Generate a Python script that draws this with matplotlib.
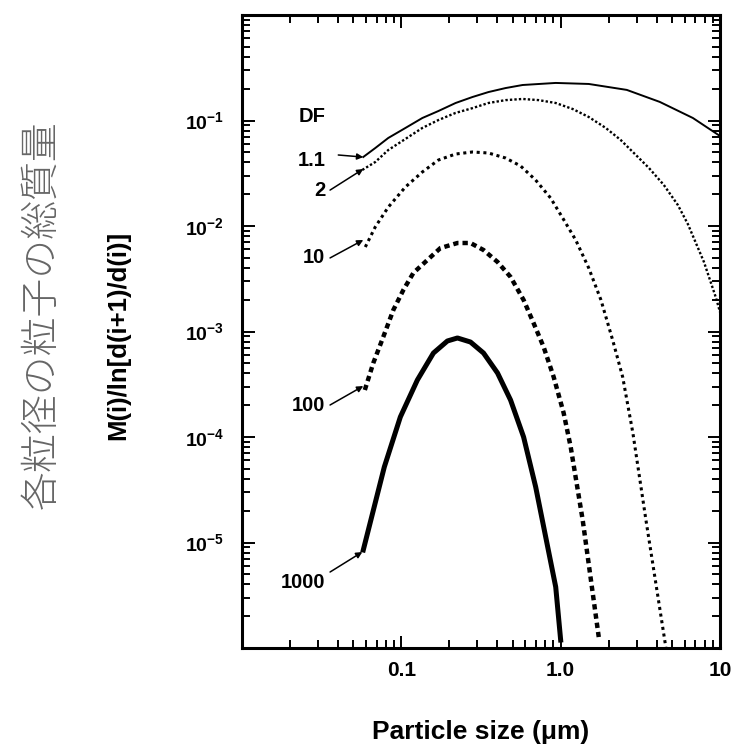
import matplotlib
matplotlib.use("Agg")
import matplotlib.pyplot as plt
from matplotlib.ticker import FixedLocator, LogLocator, NullFormatter, FixedFormatter

plt.rcParams['font.family'] = ['Liberation Sans', 'DejaVu Sans']
plt.rcParams['font.weight'] = 'bold'
plt.rcParams['mathtext.fontset'] = 'custom'
plt.rcParams['mathtext.bf'] = 'Liberation Sans:bold'
plt.rcParams['mathtext.rm'] = 'Liberation Sans:bold'

# particle size (um) and M(i)/ln[d(i+1)/d(i)], one pair per DF
x_df1_1 = [0.0577, 0.0686, 0.0828, 0.106, 0.1355, 0.1709, 0.219, 0.2796, 0.352, 0.451, 0.577,
           0.931, 1.50, 2.60, 4.19, 6.76, 10.0]
y_df1_1 = [0.0451, 0.0548, 0.0683, 0.0849, 0.1056, 0.123, 0.1465, 0.167, 0.186, 0.203, 0.217,
           0.227, 0.222, 0.195, 0.150, 0.1056, 0.0713]

x_df2 = [0.0569, 0.0686, 0.0828, 0.106, 0.1355, 0.1709, 0.219, 0.2796, 0.352, 0.451, 0.577, 0.728,
         0.931, 1.19, 1.50, 1.92, 2.38, 2.88, 3.58, 4.44, 5.44, 6.29, 7.93, 9.44, 10.0]
y_df2 = [0.034, 0.0404, 0.0525, 0.0668, 0.085, 0.101, 0.118, 0.131, 0.1465, 0.156, 0.160, 0.156,
         0.1465, 0.1285, 0.108, 0.0849, 0.0654, 0.0492, 0.0355, 0.0245, 0.0158, 0.0104, 0.00456,
         0.00208, 0.00153]

x_df10 = [0.0594, 0.0686, 0.0828, 0.106, 0.1355, 0.1709, 0.219, 0.2796, 0.352, 0.451, 0.560,
          0.696, 0.865, 1.03, 1.243, 1.50, 1.79, 2.12, 2.45, 2.84, 3.43, 4.57]
y_df10 = [6.32e-3, 9.79e-3, 1.51e-2, 2.34e-2, 3.25e-2, 4.22e-2, 4.81e-2, 5.03e-2, 4.92e-2, 4.41e-2,
          3.71e-2, 2.73e-2, 1.84e-2, 1.19e-2, 7.37e-3, 4.00e-3, 1.99e-3, 8.30e-4, 3.71e-4,
          1.09e-4, 1.63e-5, 1.02e-6]

x_df100 = [0.0590, 0.0667, 0.0770, 0.0891, 0.1029, 0.1190, 0.1457, 0.1759, 0.2250, 0.2716, 0.3280,
           0.4016, 0.4848, 0.5853, 0.6764, 0.7819, 0.9037, 1.044, 1.156, 1.375, 1.734]
y_df100 = [2.79e-4, 5.03e-4, 8.87e-4, 1.60e-3, 2.47e-3, 3.59e-3, 4.76e-3, 6.18e-3, 6.90e-3, 6.90e-3,
           5.92e-3, 4.56e-3, 3.29e-3, 1.99e-3, 1.20e-3, 7.13e-4, 3.71e-4, 1.69e-4, 8.04e-5,
           1.63e-5, 1.27e-6]

x_df1000 = [0.0577, 0.0782, 0.0986, 0.1261, 0.1590, 0.1946, 0.2250, 0.2716, 0.3280, 0.4016, 0.4848,
            0.5853, 0.697, 0.931, 1.0]
y_df1000 = [8.49e-6, 5.20e-5, 1.55e-4, 3.47e-4, 6.25e-4, 8.13e-4, 8.68e-4, 7.95e-4, 6.25e-4, 4.04e-4,
            2.24e-4, 1.0e-4, 3.36e-5, 3.79e-6, 1.19e-6]

df_labels = ['1.1', '2', '10', '100', '1000']

xtick_vals = [0.01, 0.1, 1.0, 10.0]
xtick_text = ['', '0.1', '1.0', '10']
ytick_vals = [1e-6, 1e-5, 1e-4, 1e-3, 1e-2, 1e-1, 1.0]
ytick_text = ['', r'$\mathbf{10^{-5}}$', r'$\mathbf{10^{-4}}$', r'$\mathbf{10^{-3}}$',
              r'$\mathbf{10^{-2}}$', r'$\mathbf{10^{-1}}$', '']

fig = plt.figure(figsize=(7.32, 7.5), dpi=100)
ax = fig.add_axes([0.3306, 0.136, 0.653, 0.844])

ax.plot(x_df1_1, y_df1_1, color='k', lw=1.4)
ax.plot(x_df2, y_df2, color='k', lw=1.7, linestyle=(0, (1, 0.9)))
ax.plot(x_df10, y_df10, color='k', lw=2.2, linestyle=(0, (1, 1.2)))
ax.plot(x_df100, y_df100, color='k', lw=3.2, linestyle=(0, (1.2, 0.9)))
ax.plot(x_df1000, y_df1000, color='k', lw=3.6, solid_joinstyle='round')

ax.set_xscale('log')
ax.set_yscale('log')
ax.set_xlim(0.01, 10)
ax.set_ylim(1e-6, 1.0)

ax.xaxis.set_major_locator(FixedLocator(xtick_vals))
ax.xaxis.set_major_formatter(FixedFormatter(xtick_text))
ax.xaxis.set_minor_locator(LogLocator(base=10, subs=range(2, 10), numticks=20))
ax.xaxis.set_minor_formatter(NullFormatter())
ax.yaxis.set_major_locator(FixedLocator(ytick_vals))
ax.yaxis.set_major_formatter(FixedFormatter(ytick_text))
ax.yaxis.set_minor_locator(LogLocator(base=10, subs=range(2, 10), numticks=20))
ax.yaxis.set_minor_formatter(NullFormatter())

ax.tick_params(which='both', direction='in', top=True, right=True, width=1.4, color='k')
ax.tick_params(which='major', length=9)
ax.tick_params(which='minor', length=6)
ax.tick_params(axis='x', which='major', labelsize=15, pad=9)
ax.tick_params(axis='y', which='major', labelsize=14, pad=13)
for s in ax.spines.values():
    s.set_linewidth(2.2)

# DF labels with arrows pointing at each curve start
lab_x = 0.0333
ax.text(lab_x, 0.108, 'DF', ha='right', va='center', fontsize=14.5, fontweight='bold')
label_pos = [0.0422, 0.0215, 0.00498, 1.97e-4, 4.22e-6]
arrow_tail = [(0.0402, 0.0471), (0.0357, 0.0219), (0.0357, 0.00498), (0.0357, 2.01e-4), (0.0357, 5.25e-6)]
arrow_tip = [(0.0577, 0.045), (0.0577, 0.0347), (0.0577, 0.00737), (0.0577, 3.04e-4), (0.0569, 8.13e-6)]
for lab, ly, tail, tip in zip(df_labels, label_pos, arrow_tail, arrow_tip):
    ax.text(lab_x, ly, lab, ha='right', va='center', fontsize=14.5, fontweight='bold')
    ax.annotate('', xy=tip, xytext=tail,
                arrowprops=dict(arrowstyle='-|>', color='k', lw=1.1, mutation_scale=9,
                                shrinkA=0, shrinkB=0))

fig.text(0.161, 0.553, 'M(i)/ln[d(i+1)/d(i)]', rotation=90, ha='center', va='center',
         fontsize=18.5, fontweight='bold')
fig.text(0.657, 0.024, 'Particle size (\u03bcm)', ha='center', va='center',
         fontsize=19, fontweight='bold')
fig.text(0.057, 0.58, '各粒径の粒子の総質量', rotation=90, ha='center', va='center',
         fontsize=28, color='#666666', fontweight='light',
         family=['Noto Sans CJK JP', 'DejaVu Sans'])

fig.savefig('out.png', dpi=100)
